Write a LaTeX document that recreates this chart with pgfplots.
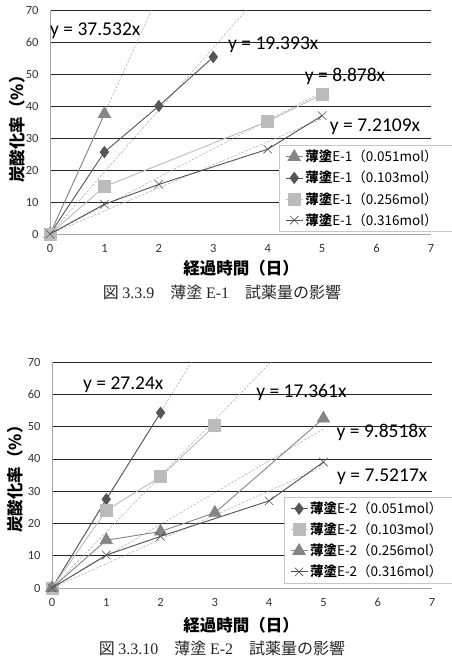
\documentclass[border=0pt]{standalone}
\usepackage{pgfplots}
\pgfplotsset{compat=1.18}
\usepackage{fontspec}
\setmainfont{Carlito}
\newfontfamily\jp{Noto Sans CJK JP}
\newfontfamily\serif{Liberation Serif}
\definecolor{cA}{HTML}{858585}
\definecolor{cB}{HTML}{555555}
\definecolor{cC}{HTML}{BBBBBB}
\definecolor{cD}{HTML}{505050}
\definecolor{trend}{HTML}{A8A8A8}
\newcommand{\legtxt}[2]{{\bfseries 薄塗}E-#1（#2mol）\hspace*{7pt}}
\tikzset{eq/.style={font=\fontsize{19.5}{21}\selectfont, anchor=west, inner sep=0pt},
  axlab/.style={font=\jp\bfseries\fontsize{16.5}{18}\selectfont, anchor=center, inner sep=0pt},
  figcap/.style={font=\jp\fontsize{16}{18}\selectfont, text=black!85, inner sep=0pt}}
\pgfplotsset{
  myaxis/.style={
    scale only axis, width=381pt, height=224pt,
    xmin=0, xmax=7, ymin=0, ymax=70,
    xtick={0,1,...,7}, ytick={0,10,...,70},
    axis x line=bottom, axis y line=left,
    x axis line style={-, draw=gray!70, line width=0.8pt},
    y axis line style={-, draw=gray!70, line width=0.8pt},
    ymajorgrids, major grid style={draw=black!85, line width=0.7pt},
    major tick length=0pt,
    /pgf/number format/assume math mode=true,
    ticklabel style={font=\fontsize{12.5}{14}\selectfont, text=black!80},
    xticklabel style={yshift=-7pt},
    yticklabel style={xshift=-8pt},
    clip mode=individual,
    legend cell align=left,
    legend style={draw=gray!45, line width=0.6pt, font=\jp\fontsize{13.5}{15}\selectfont, row sep=4pt, inner xsep=6pt, inner ysep=3pt, anchor=north west, fill=white},
  },
  tl/.style={forget plot, trend, dashed, dash pattern=on 2.5pt off 1.5pt, line width=0.5pt},
}
\begin{document}
\begin{tikzpicture}
\useasboundingbox (0,0) rectangle (451pt,-667pt);
% ---------------- Top chart ----------------
\begin{axis}[myaxis, at={(50pt,-234pt)}, anchor=south west,
  legend style={at={(axis description cs:0.601,0.397)}}]
\addplot[tl] coordinates {(0,0) (1.8651,70)};
\addplot[tl] coordinates {(0,0) (3.6096,70)};
\addplot[tl] coordinates {(0,0) (5,44.39)};
\addplot[tl] coordinates {(0,0) (5,36.05)};
\addplot[cA, line width=0.9pt, mark=triangle*, mark size=7pt, mark options={fill=cA, draw=cA, solid}] coordinates {(0,0) (1,37.5)};
\addlegendentry{\legtxt{1}{0.051}}
\addplot[cB, line width=0.9pt, mark=diamond*, mark size=5.5pt, mark options={fill=cB, draw=cB, solid}] coordinates {(0,0) (1,25.6) (2,40.0) (3,55.3)};
\addlegendentry{\legtxt{1}{0.103}}
\addplot[cC, line width=0.9pt, mark=square*, mark size=6pt, mark options={fill=cC, draw=cC, solid}] coordinates {(0,0) (1,14.8) (4,35.2) (5,43.6)};
\addlegendentry{\legtxt{1}{0.256}}
\addplot[cD, line width=0.9pt, mark=x, mark size=6pt, mark options={draw=cD, solid, line width=0.6pt}] coordinates {(0,0) (1,9.3) (2,15.5) (4,26.5) (5,37.0)};
\addlegendentry{\legtxt{1}{0.316}}
\node[eq] at (axis cs:0.0,63.4) {y = 37.532x};
\node[eq] at (axis cs:3.27,59.1) {y = 19.393x};
\node[eq] at (axis cs:4.68,49.1) {y = 8.878x};
\node[eq] at (axis cs:5.14,33.4) {y = 7.2109x};
\end{axis}
\node[axlab] at (241pt,-268pt) {経過時間（日）};
\node[axlab, rotate=90] at (17pt,-125pt) {炭酸化率（\%）};
\node[figcap] at (222pt,-292pt) {図 {\serif 3.3.9}　薄塗 {\serif E-1}　試薬量の影響};
% ---------------- Bottom chart ----------------
\begin{axis}[myaxis, height=226pt, width=380pt, at={(52pt,-588pt)}, anchor=south west,
  legend style={at={(axis description cs:0.61,0.403)}}]
\addplot[tl] coordinates {(0,0) (2.5698,70)};
\addplot[tl] coordinates {(0,0) (4.0320,70)};
\addplot[tl] coordinates {(0,0) (5,49.26)};
\addplot[tl] coordinates {(0,0) (5,37.61)};
\addplot[cB, line width=0.9pt, mark=diamond*, mark size=5.5pt, mark options={fill=cB, draw=cB, solid}] coordinates {(0,0) (1,27.5) (2,54.3)};
\addlegendentry{\legtxt{2}{0.051}}
\addplot[cC, line width=0.9pt, mark=square*, mark size=6pt, mark options={fill=cC, draw=cC, solid}] coordinates {(0,0) (1,24.0) (2,34.5) (3,50.3)};
\addlegendentry{\legtxt{2}{0.103}}
\addplot[cA, line width=0.9pt, mark=triangle*, mark size=7pt, mark options={fill=cA, draw=cA, solid}] coordinates {(0,0) (1,14.8) (2,17.5) (3,23.3) (5,52.5)};
\addlegendentry{\legtxt{2}{0.256}}
\addplot[cD, line width=0.9pt, mark=x, mark size=6pt, mark options={draw=cD, solid, line width=0.6pt}] coordinates {(0,0) (1,10.2) (2,16.0) (4,27.0) (5,39.0)};
\addlegendentry{\legtxt{2}{0.316}}
\node[eq] at (axis cs:0.57,62.9) {y = 27.24x};
\node[eq] at (axis cs:3.76,60.7) {y = 17.361x};
\node[eq] at (axis cs:5.24,48.3) {y = 9.8518x};
\node[eq] at (axis cs:5.25,34.4) {y = 7.5217x};
\end{axis}
\node[axlab] at (241pt,-625pt) {経過時間（日）};
\node[axlab, rotate=90] at (15pt,-475pt) {炭酸化率（\%）};
\node[figcap] at (222pt,-648pt) {図 {\serif 3.3.10}　薄塗 {\serif E-2}　試薬量の影響};
\end{tikzpicture}
\end{document}
